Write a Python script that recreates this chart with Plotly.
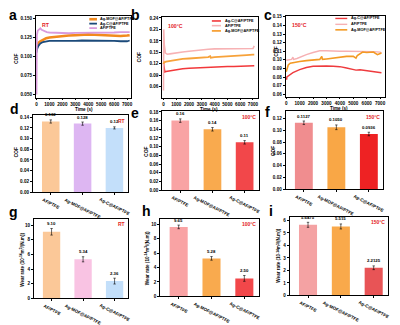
import plotly.graph_objects as go

W, H = 400, 325
FONT = "Liberation Sans, Arial, sans-serif"
RED_TXT = "#E3231E"

# ---------------- data ----------------
samples = ["AF/PTFE", "Ag-MOF@AF/PTFE", "Ag-C@AF/PTFE"]

# COF vs time, room temperature
t_a_af = [0, 30, 100, 200, 300, 400, 600, 800, 1000, 1500, 2000, 2500, 3000, 3500, 4000, 4500, 5000, 5500, 6000, 6500, 7000, 7200]
cof_a_af = [0.05, 0.128, 0.134, 0.136, 0.137, 0.135, 0.133, 0.132, 0.1315, 0.131, 0.131, 0.1305, 0.131, 0.131, 0.1315, 0.131, 0.1315, 0.131, 0.1315, 0.132, 0.132, 0.132]
t_a_mof = [0, 50, 150, 300, 500, 750, 1000, 1500, 2000, 2500, 3000, 3500, 4000, 4500, 5000, 5500, 6000, 6500, 7000, 7200]
cof_a_mof = [0.112, 0.115, 0.118, 0.120, 0.122, 0.124, 0.125, 0.126, 0.127, 0.1275, 0.128, 0.1285, 0.129, 0.1285, 0.128, 0.1275, 0.1275, 0.127, 0.1275, 0.128]
t_a_c = [0, 50, 150, 300, 500, 750, 1000, 1500, 2000, 2500, 3000, 3500, 4000, 4500, 5000, 5500, 6000, 6500, 7000, 7200]
cof_a_c = [0.105, 0.110, 0.114, 0.117, 0.119, 0.120, 0.1205, 0.1205, 0.1205, 0.120, 0.1205, 0.121, 0.121, 0.1205, 0.1205, 0.121, 0.1205, 0.120, 0.120, 0.121]

# COF vs time, 100 °C
t_b_af = [0, 20, 60, 150, 300, 500, 1000, 1500, 2000, 2500, 3000, 3500, 4000, 4500, 5000, 5500, 6000, 6500, 7000, 7100]
cof_b_af = [0.05, 0.21, 0.17, 0.148, 0.145, 0.146, 0.149, 0.151, 0.153, 0.155, 0.156, 0.158, 0.159, 0.159, 0.1595, 0.159, 0.1595, 0.16, 0.16, 0.167]
t_b_mof = [0, 50, 200, 500, 1000, 1500, 2000, 2500, 3000, 3500, 3650, 3700, 4000, 4500, 5000, 5500, 6000, 6500, 7000, 7100]
cof_b_mof = [0.12, 0.124, 0.126, 0.128, 0.131, 0.133, 0.134, 0.135, 0.136, 0.1375, 0.140, 0.136, 0.1375, 0.139, 0.140, 0.141, 0.142, 0.143, 0.144, 0.144]
t_b_c = [0, 50, 100, 200, 500, 1000, 1500, 2000, 2500, 3000, 3500, 4000, 4500, 5000, 5500, 6000, 6500, 7000, 7100]
cof_b_c = [0.122, 0.105, 0.099, 0.100, 0.102, 0.105, 0.107, 0.1085, 0.1095, 0.110, 0.111, 0.112, 0.1125, 0.113, 0.113, 0.114, 0.1145, 0.1145, 0.115]

# COF vs time, 150 °C
t_c_af = [0, 200, 400, 500, 550, 800, 1000, 1500, 2000, 2500, 3000, 3500, 4000, 4500, 5000, 5500, 6000, 6500, 7000, 7100]
cof_c_af = [0.0995, 0.100, 0.1005, 0.103, 0.1005, 0.1015, 0.103, 0.106, 0.1085, 0.1105, 0.1105, 0.110, 0.110, 0.110, 0.110, 0.1095, 0.1095, 0.1095, 0.109, 0.108]
t_c_mof = [0, 50, 150, 300, 600, 1000, 1500, 2000, 2500, 2650, 2700, 3000, 3500, 4000, 4500, 5000, 5200, 5300, 5500, 5700, 6000, 6300, 6500, 6800, 7000, 7100]
cof_c_mof = [0.086, 0.090, 0.094, 0.096, 0.097, 0.098, 0.099, 0.100, 0.1005, 0.104, 0.1005, 0.101, 0.102, 0.103, 0.104, 0.104, 0.102, 0.105, 0.107, 0.109, 0.1085, 0.109, 0.109, 0.106, 0.107, 0.108]
t_c_c = [0, 30, 50, 200, 500, 1000, 1500, 2000, 2500, 3000, 3500, 4000, 4500, 5000, 5200, 5500, 6000, 6500, 7000, 7100]
cof_c_c = [0.079, 0.077, 0.080, 0.082, 0.085, 0.0885, 0.091, 0.0925, 0.093, 0.0928, 0.0925, 0.092, 0.0905, 0.089, 0.088, 0.0885, 0.0875, 0.0865, 0.0855, 0.085]

time_ticks = [0, 1000, 2000, 3000, 4000, 5000, 6000, 7000]

# average COF labels and error bars
cof_rt_lbl = ["0.132", "0.128", "0.12"]
cof_rt_err = [0.003, 0.003, 0.002]
cof_100_lbl = ["0.16", "0.14", "0.11"]
cof_100_err = [0.004, 0.004, 0.004]
cof_150_lbl = ["0.1127", "0.1050", "0.0936"]
cof_150_err = [0.003, 0.004, 0.003]

# wear rate labels and error bars
wear_rt_lbl = ["9.10", "5.34", "2.36"]
wear_rt_err = [0.45, 0.35, 0.4]
wear_100_lbl = ["9.65", "5.28", "2.50"]
wear_100_err = [0.25, 0.25, 0.4]
wear_150_lbl = ["5.6475", "5.515", "2.2125"]
wear_150_err = [0.2, 0.2, 0.15]

# ---------------- panel geometry (pixels: left, right, top, bottom) ----------------
boxes = {
    1: (35, 131, 14, 97), 2: (162, 258, 15, 97), 3: (286, 386, 14, 96),
    4: (32, 128, 115, 193), 5: (162, 259, 111, 191), 6: (286, 384, 111, 190),
    7: (33, 128, 220, 301), 8: (160, 259, 220, 299), 9: (290, 389, 218, 298),
}


def xn(k):
    return "x" if k == 1 else f"x{k}"


def yn(k):
    return "y" if k == 1 else f"y{k}"


def bold(s):
    return f"<b>{s}</b>"


fig = go.Figure()
layout = dict(
    width=W, height=H, margin=dict(l=0, r=0, t=0, b=0),
    paper_bgcolor="white", plot_bgcolor="white", showlegend=False,
    font=dict(family=FONT, color="black"),
)
annotations = []
shapes = []

tickfont = dict(family=FONT, size=4.6, color="black")
axline = dict(showline=True, linecolor="black", linewidth=0.8, mirror=True,
              showgrid=False, zeroline=False, ticks="outside", ticklen=2,
              tickwidth=0.6, tickcolor="black", tickfont=tickfont, tickangle=0)


def set_axes(k, xr, yr, xkw, ykw):
    l, r, t, b = boxes[k]
    xd = [l / W, r / W]
    yd = [1 - b / H, 1 - t / H]
    xa = dict(axline, domain=xd, range=xr, anchor=yn(k))
    xa.update(xkw)
    ya = dict(axline, domain=yd, range=yr, anchor=xn(k))
    ya.update(ykw)
    layout["xaxis" if k == 1 else f"xaxis{k}"] = xa
    layout["yaxis" if k == 1 else f"yaxis{k}"] = ya


def ann(text, x, y, size=5, color="black", angle=0, xanchor="center", yanchor="middle"):
    annotations.append(dict(
        text=bold(text), x=x / W, y=1 - y / H, xref="paper", yref="paper",
        showarrow=False, font=dict(family=FONT, size=size, color=color),
        textangle=angle, xanchor=xanchor, yanchor=yanchor))


# ---------------- COF vs time ----------------
line_panels = [
    (1, [(t_a_mof, cof_a_mof, "#F28A1E", 2.6, "Ag-MOF@AF/PTFE"),
         (t_a_c, cof_a_c, "#1B4A7A", 1.8, "Ag-C@AF/PTFE"),
         (t_a_af, cof_a_af, "#D99BDD", 1.8, "AF/PTFE")],
     [-50, 7330], [0.046, 0.1535], ([0.05, 0.075, 0.1, 0.125, 0.15], "{:.3f}"),
     "RT", (0.56, 0.64, 0.655), [0.958, 0.904, 0.849]),
    (2, [(t_b_c, cof_b_c, "#F2383A", 1.6, "Ag-C@AF/PTFE"),
         (t_b_af, cof_b_af, "#F7B2B4", 1.6, "AF/PTFE"),
         (t_b_mof, cof_b_mof, "#F7A23A", 1.8, "Ag-MOF@AF/PTFE")],
     [-100, 7370], [0.032, 0.243], ([0.06, 0.09, 0.12, 0.15, 0.18, 0.21, 0.24], "{:.2f}"),
     "100°C", (0.52, 0.615, 0.635), [0.948, 0.890, 0.825]),
    (3, [(t_c_c, cof_c_c, "#EE3B3E", 1.4, "Ag-C@AF/PTFE"),
         (t_c_af, cof_c_af, "#F6B0B3", 1.4, "AF/PTFE"),
         (t_c_mof, cof_c_mof, "#F39A24", 1.6, "Ag-MOF@AF/PTFE")],
     [-50, 7370], [0.0573, 0.1512], ([0.06, 0.07, 0.08, 0.09, 0.10, 0.11, 0.12, 0.13, 0.14, 0.15], "{:.2f}"),
     "150°C", (0.50, 0.62, 0.64), [0.967, 0.894, 0.826]),
]

for k, series, xr, yr, (yt, yfmt), cond, (lx0, lx1, tx), rows in line_panels:
    for (tt, vv, col, w, name) in series:
        fig.add_trace(go.Scatter(x=tt, y=vv, mode="lines", name=name,
                                 line=dict(color=col, width=w), xaxis=xn(k), yaxis=yn(k)))
    set_axes(k, xr, yr,
             dict(tickvals=time_ticks, ticktext=[bold(v) for v in time_ticks]),
             dict(tickvals=yt, ticktext=[bold(yfmt.format(v)) for v in yt]))
    xref = "x domain" if k == 1 else f"x{k} domain"
    yref = "y domain" if k == 1 else f"y{k} domain"
    for (tt, vv, col, w, name), ry in zip(series, rows):
        shapes.append(dict(type="line", xref=xref, yref=yref, x0=lx0, x1=lx1, y0=ry, y1=ry,
                           line=dict(color=col, width=max(w, 1.4))))
        annotations.append(dict(text=bold(name), xref=xref, yref=yref, x=tx, y=ry,
                                xanchor="left", yanchor="middle", showarrow=False,
                                font=dict(family=FONT, size=3.8, color="black")))
    l, r, t, b = boxes[k]
    ann(cond, l + 4, t + 4, size=5.2, color=RED_TXT, xanchor="left", yanchor="top")

# ---------------- bar panels ----------------
bar_panels = [
    (4, cof_rt_lbl, cof_rt_err, ["#FBC898", "#DDB6F2", "#C3DFFA"], [0, 0.1437],
     [0, 0.02, 0.04, 0.06, 0.08, 0.10, 0.12, 0.14], "{:.2f}", "RT"),
    (5, cof_100_lbl, cof_100_err, ["#F9A3A4", "#F9AA4E", "#F2474A"], [0, 0.1815],
     [0, 0.02, 0.04, 0.06, 0.08, 0.10, 0.12, 0.14, 0.16, 0.18], "{:.2f}", "100°C"),
    (6, cof_150_lbl, cof_150_err, ["#F08D8F", "#F9A746", "#EE2223"], [0, 0.1322],
     [0, 0.02, 0.04, 0.06, 0.08, 0.10, 0.12], "{:.2f}", "150°C"),
    (7, wear_rt_lbl, wear_rt_err, ["#FBC898", "#F9C3E3", "#C3DFFA"], [0, 10.9],
     [0, 2, 4, 6, 8, 10], "{:.0f}", "RT"),
    (8, wear_100_lbl, wear_100_err, ["#F9A3A4", "#F9AA4E", "#F2474A"], [0, 10.8],
     [0, 2, 4, 6, 8, 10], "{:.0f}", "100°C"),
    (9, wear_150_lbl, wear_150_err, ["#F4A2A3", "#F9A94B", "#E85456"], [0, 6.3],
     [0, 1, 2, 3, 4, 5, 6], "{:.0f}", "150°C"),
]

for k, lbls, errs, cols, yr, yt, fmt, cond in bar_panels:
    vals = [float(s) for s in lbls]
    fig.add_trace(go.Bar(x=samples, y=vals, width=0.55, marker=dict(color=cols, line=dict(width=0)),
                         error_y=dict(type="data", array=errs, color="black", thickness=0.6, width=1.2),
                         xaxis=xn(k), yaxis=yn(k)))
    set_axes(k, [-0.5625, 2.4375], yr,
             dict(showticklabels=False, categoryorder="array", categoryarray=samples),
             dict(tickvals=yt, ticktext=[bold(fmt.format(v)) for v in yt]))
    xref = xn(k)
    yref = yn(k)
    for s, v, e in zip(samples, lbls, errs):
        annotations.append(dict(text=bold(v), x=s, y=float(v) + e, xref=xref, yref=yref,
                                yanchor="bottom", yshift=0.5, showarrow=False,
                                font=dict(family=FONT, size=4.3, color="black")))
        # rotated category label centred under each bar
        annotations.append(dict(text=bold(s), x=s, y=yr[0], xref=xref, yref=yref,
                                xanchor="center", yanchor="top", yshift=-2, textangle=27,
                                showarrow=False, font=dict(family=FONT, size=4.4, color="black")))
    l, r, t, b = boxes[k]
    ann(cond, r - 1.2, t + 0.8, size=5, color=RED_TXT, xanchor="right", yanchor="top")

# ---------------- axis titles ----------------
for x, y in [(15, 57), (139, 56), (277, 50), (15, 152), (145, 152), (273, 151)]:
    ann("COF", x, y, size=5, angle=-90)
wear_title = "Wear rate (10<sup>-14</sup>m<sup>3</sup>/(N.m))"
for x, y in [(21, 262), (147, 260), (279, 258)]:
    ann(wear_title, x, y, size=4.6, angle=-90)
for x, y in [(83, 109), (209, 109), (340, 108.5)]:
    ann("Time (s)", x, y, size=4.6)

# ---------------- panel letters ----------------
for letter, x, y in [("a", 12, 13), ("b", 135, 13), ("c", 268, 13),
                     ("d", 14, 109), ("e", 135, 113), ("f", 268, 112),
                     ("g", 13, 213), ("h", 146, 212), ("i", 271, 212)]:
    ann(letter, x, y, size=14)

layout["annotations"] = annotations
layout["shapes"] = shapes
fig.update_layout(**layout)
fig.write_html("out.html")
